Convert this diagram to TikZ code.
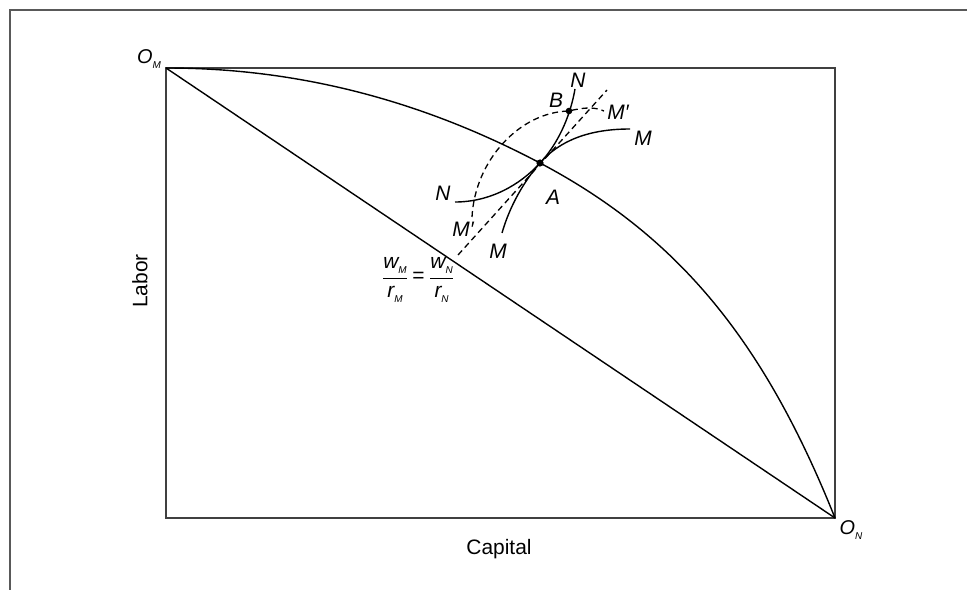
\documentclass[tikz,border=0pt]{standalone}
\usepackage{fontspec}
\setmainfont{Liberation Sans}
\usetikzlibrary{calc}

\newcommand{\lowsub}[1]{\raisebox{-0.45ex}{\fontsize{10}{11}\selectfont\itshape #1}}

\tikzset{
    lbl/.style={font=\fontsize{21}{24}\selectfont\itshape, inner sep=0pt},
    axlbl/.style={font=\fontsize{21}{24}\selectfont, inner sep=0pt},
    iso/.style={line width=1.4bp},
    isodash/.style={line width=1.3bp, dash pattern=on 6bp off 4bp},
    boxline/.style={line width=1.4bp, black!75},
}

\begin{document}
\begin{tikzpicture}[x=1bp, y=-1bp]
\useasboundingbox (0,0) rectangle (967,590);

% Rahmen
\draw[line width=2bp, black!65] (10,590) -- (10,10) -- (967,10);

% Ursprünge und Punkte
\coordinate (OM) at (166,68);
\coordinate (ON) at (835,518);
\coordinate (A) at (540,163);
\coordinate (B) at (569,111);

% Box und Diagonale
\draw[boxline] (OM) rectangle (ON);
\draw[iso] (OM) -- (ON);

% Kontraktkurve
\draw[iso] (OM) .. controls (291,68) and (415,97) .. (A)
    .. controls (680,237) and (765,343) .. (ON);

% Isoquanten
\draw[iso] (575,89) .. controls (570,118) and (557,145) .. (A)
    .. controls (520,185) and (490,202) .. (455,202);
\draw[iso] (502,233) .. controls (510,205) and (525,180) .. (A)
    .. controls (560,140) and (590,129) .. (630,129);
\draw[isodash] (472,217) .. controls (475,160) and (520,112) .. (B)
    .. controls (585,107) and (595,107) .. (604,111);
\draw[isodash] (458,255) -- (607,90);

% Punkte A und B
\fill (A) circle (3.6bp);
\fill (B) circle (3.3bp);

% Beschriftungen
\node[lbl] (nTop) at (578,80) {N};
\node[lbl] (bLbl) at (556,100) {B};
\node[lbl] (mpRight) at (618,112) {M′};
\node[lbl] (mRight) at (643,138) {M};
\node[lbl] (nLeft) at (443,193) {N};
\node[lbl] (aLbl) at (553,197) {A};
\node[lbl] (mpLeft) at (463,229) {M′};
\node[lbl] (mBottom) at (498,251) {M};
\node[lbl, font=\fontsize{20}{23}\selectfont\itshape] (omLbl) at (149,59) {O\lowsub{M}};
\node[lbl, font=\fontsize{20}{23}\selectfont\itshape] (onLbl) at (851,530) {O\lowsub{N}};
\node[lbl] (ratio) at (418,280)
    {$\displaystyle\frac{\textit{w}\lowsub{M}}{\textit{r}\lowsub{M}}\mathbin{\mbox{\upshape =}}\frac{\textit{w}\lowsub{N}}{\textit{r}\lowsub{N}}$};

% Achsen
\node[axlbl, rotate=90] (labor) at (140,281) {Labor};
\node[axlbl] (capital) at (499,549) {Capital};
\end{tikzpicture}
\end{document}
